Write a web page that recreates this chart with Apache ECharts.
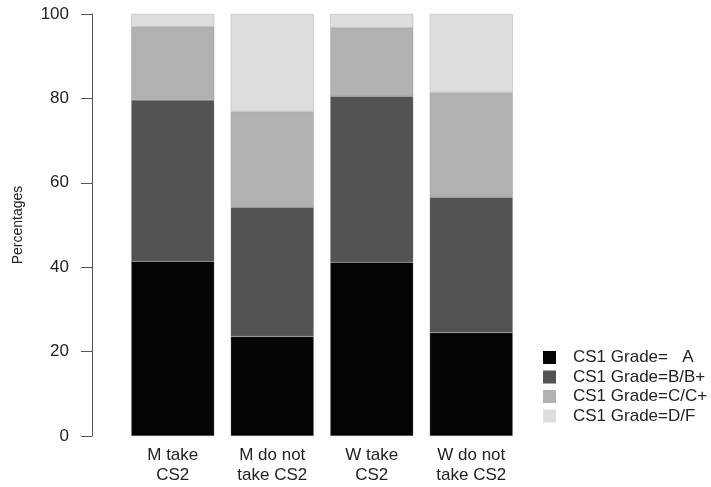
<!DOCTYPE html>
<html>
<head>
<meta charset="utf-8">
<script src="https://cdn.jsdelivr.net/npm/echarts@6/dist/echarts.min.js"></script>
<style>html,body{margin:0;padding:0;background:#fff}#c{width:711px;height:487px}</style>
</head>
<body>
<div id="c"></div>
<script>
const categories = ['M take\nCS2', 'M do not\ntake CS2', 'W take\nCS2', 'W do not\ntake CS2'];
const seriesNames = ['CS1 Grade=   A', 'CS1 Grade=B/B+', 'CS1 Grade=C/C+', 'CS1 Grade=D/F'];
const gradeA = [41.4, 23.6, 41.2, 24.5];
const gradeB = [38.2, 30.6, 39.3, 32.1];
const gradeC = [17.4, 22.7, 16.3, 24.8];
const gradeD = [3.0, 23.1, 3.2, 18.6];
const yTicks = [0, 20, 40, 60, 80, 100];
const colors = ['#040404', '#535353', '#b1b1b1', '#dedede'];

const allData = [gradeA, gradeB, gradeC, gradeD];
const font = 'Liberation Sans, Arial, Helvetica, sans-serif';

const chart = echarts.init(document.getElementById('c'), null, {renderer: 'canvas'});
chart.setOption({
  animation: false,
  backgroundColor: '#fff',
  textStyle: {fontFamily: font},
  grid: {left: 123, right: 190, top: 14, bottom: 51, containLabel: false},
  legend: {
    orient: 'vertical',
    left: 538,
    top: 344,
    itemWidth: 13,
    itemHeight: 13,
    itemGap: 2.5,
    icon: 'rect',
    data: seriesNames,
    itemStyle: {borderWidth: 0},
    textStyle: {fontFamily: font, fontSize: 17, lineHeight: 17, color: '#222', padding: [0, 0, 0, 12]}
  },
  xAxis: {
    type: 'category',
    data: categories,
    axisLine: {show: false},
    axisTick: {show: false},
    axisLabel: {fontFamily: font, fontSize: 17, color: '#222', margin: 9, lineHeight: 20, interval: 0}
  },
  yAxis: {
    type: 'value',
    min: 0,
    max: 100,
    interval: 20,
    offset: 31,
    name: 'Percentages',
    nameLocation: 'middle',
    nameGap: 67,
    nameTextStyle: {fontFamily: font, fontSize: 14, color: '#222'},
    axisLine: {show: true, lineStyle: {color: '#555', width: 1}},
    axisTick: {show: true, length: 11, lineStyle: {color: '#555'}},
    splitLine: {show: false},
    axisLabel: {fontFamily: font, fontSize: 17, color: '#222', margin: 23,
      formatter: v => yTicks.includes(v) ? String(v) : ''}
  },
  series: allData.map((d, i) => ({
    name: seriesNames[i],
    type: 'bar',
    stack: 'total',
    data: d,
    barCategoryGap: '16.5%',
    itemStyle: {color: colors[i], borderColor: 'rgba(140,140,140,0.6)', borderWidth: 0.5}
  }))
});
</script>
</body>
</html>
